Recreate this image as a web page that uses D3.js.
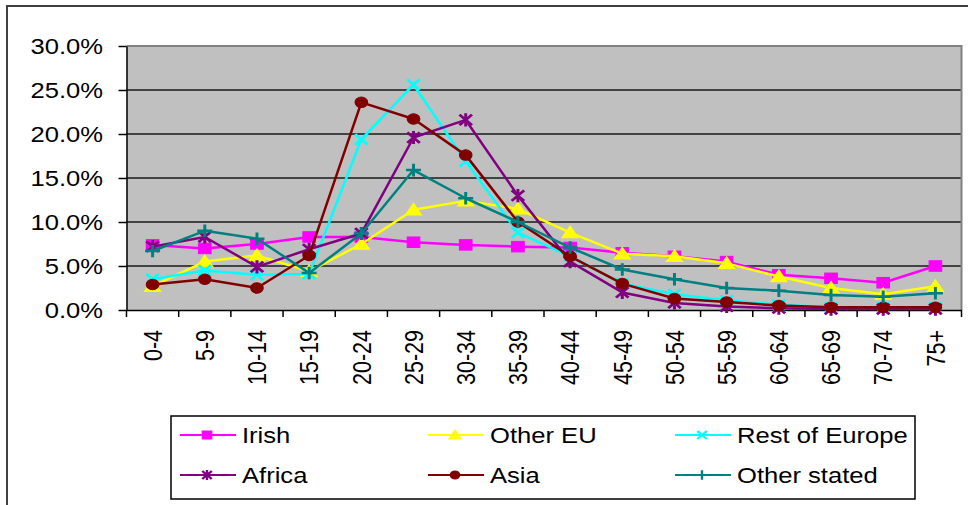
<!DOCTYPE html>
<html>
<head>
<meta charset="utf-8">
<script src="https://cdn.jsdelivr.net/npm/d3@7"></script>
<style>
  html, body { margin: 0; padding: 0; background: #fff; }
  svg { display: block; font-family: "Liberation Sans", Arial, sans-serif; }
</style>
</head>
<body>
<svg id="chart" width="968" height="505"></svg>
<script>
// Age groups along the x axis
const ageGroups = ["0-4","5-9","10-14","15-19","20-24","25-29","30-34","35-39",
                   "40-44","45-49","50-54","55-59","60-64","65-69","70-74","75+"];

// Share of each nationality group by age (%)
const irish        = [7.4, 7.0, 7.5, 8.3, 8.3, 7.7, 7.4, 7.2, 7.1, 6.5, 6.1, 5.5, 4.0, 3.6, 3.1, 5.0];
const otherEU      = [2.7, 5.5, 6.2, 4.4, 7.5, 11.4, 12.4, 11.5, 8.8, 6.4, 6.1, 5.3, 3.8, 2.5, 1.8, 2.7];
const restOfEurope = [3.5, 4.5, 4.0, 4.1, 19.4, 25.6, 16.9, 8.8, 6.1, 3.0, 1.8, 1.1, 0.6, 0.3, 0.3, 0.3];
const africa       = [7.2, 8.3, 4.9, 6.9, 8.7, 19.6, 21.6, 13.0, 5.5, 2.0, 0.8, 0.4, 0.2, 0.1, 0.1, 0.1];
const asia         = [2.9, 3.5, 2.5, 6.2, 23.6, 21.7, 17.6, 10.0, 6.1, 3.0, 1.3, 0.9, 0.5, 0.3, 0.3, 0.3];
const otherStated  = [6.7, 9.0, 8.1, 4.2, 8.7, 15.9, 12.7, 10.0, 7.1, 4.6, 3.5, 2.5, 2.2, 1.7, 1.5, 1.9];

const seriesNames = ["Irish", "Other EU", "Rest of Europe", "Africa", "Asia", "Other stated"];
const seriesData  = [irish, otherEU, restOfEurope, africa, asia, otherStated];
const seriesColors = ["#FF00FF", "#FFFF00", "#00FFFF", "#800080", "#800000", "#008080"];
const seriesMarkers = ["square", "triangle", "cross", "asterisk", "circle", "plus"];

const yTicks = [0, 5, 10, 15, 20, 25, 30];

// Text and markers are drawn slightly wider than tall
const SX = 1.19;
const FONT = 21.5;

const svg = d3.select("#chart");

// Outer chart frame
svg.append("rect")
  .attr("x", 7).attr("y", 6)
  .attr("width", 975).attr("height", 510)
  .attr("fill", "#fff")
  .attr("stroke", "#404040").attr("stroke-width", 2);

const plot = { left: 126.5, right: 961.5, top: 46, bottom: 310 };

const x = d3.scaleBand().domain(ageGroups).range([plot.left, plot.right]);
const y = d3.scaleLinear().domain([0, 30]).range([plot.bottom, plot.top]);

// Plot background
svg.append("rect")
  .attr("x", plot.left).attr("y", plot.top)
  .attr("width", plot.right - plot.left).attr("height", plot.bottom - plot.top)
  .attr("fill", "#C0C0C0");

// Horizontal gridlines
svg.append("g").selectAll("line")
  .data(yTicks.filter(t => t > 0 && t < 30))
  .join("line")
  .attr("x1", plot.left).attr("x2", plot.right)
  .attr("y1", d => y(d)).attr("y2", d => y(d))
  .attr("stroke", "#1a1a1a").attr("stroke-width", 1.5);

// Top and right plot borders
svg.append("path")
  .attr("d", `M${plot.left},${plot.top}H${plot.right}V${plot.bottom}`)
  .attr("fill", "none").attr("stroke", "#808080").attr("stroke-width", 2);

// Y axis
const yAxis = svg.append("g")
  .attr("transform", `translate(${plot.left},0)`)
  .call(d3.axisLeft(y).tickValues(yTicks).tickSize(8).tickSizeOuter(0)
        .tickFormat(d => d3.format(".1f")(d) + "%"));
yAxis.select(".domain").attr("stroke", "#000").attr("stroke-width", 1.5);
yAxis.selectAll(".tick line").attr("stroke", "#000").attr("stroke-width", 1.5);
yAxis.selectAll(".tick text")
  .attr("x", 0).attr("dy", "0.36em")
  .attr("transform", `translate(-23.5,0) scale(${SX},1)`)
  .attr("font-size", FONT).attr("fill", "#000")
  .attr("font-family", "Liberation Sans, Arial, sans-serif");

// X axis: baseline, tick marks at band boundaries, rotated labels at band centres
const xAxis = svg.append("g")
  .attr("transform", `translate(0,${plot.bottom})`)
  .call(d3.axisBottom(x).tickSize(0).tickSizeOuter(0));
xAxis.select(".domain").attr("stroke", "#000").attr("stroke-width", 1.5);
xAxis.selectAll(".tick text")
  .attr("y", 0).attr("dy", "0.36em")
  .attr("text-anchor", "end")
  .attr("transform", `translate(0,20) scale(${SX},1) rotate(-90)`)
  .attr("font-size", FONT).attr("fill", "#000")
  .attr("font-family", "Liberation Sans, Arial, sans-serif");

const boundaries = ageGroups.map(a => x(a)).concat([x.range()[1]]);
svg.append("g").selectAll("line")
  .data(boundaries)
  .join("line")
  .attr("x1", d => d).attr("x2", d => d)
  .attr("y1", plot.bottom).attr("y2", plot.bottom + 7)
  .attr("stroke", "#000").attr("stroke-width", 1.5);

// Marker drawing
function drawMarker(g, type, color, s, sw) {
  const h = s / 2;
  if (type === "square") {
    g.append("rect").attr("x", -h).attr("y", -h).attr("width", s).attr("height", s)
      .attr("fill", color).attr("stroke", color).attr("stroke-width", 1);
  } else if (type === "triangle") {
    const t = s * 0.62;
    g.append("path").attr("d", `M0,${-t}L${t * 1.05},${t * 0.8}L${-t * 1.05},${t * 0.8}Z`)
      .attr("fill", color).attr("stroke", color).attr("stroke-width", 1);
  } else if (type === "circle") {
    g.append("circle").attr("r", h).attr("fill", color).attr("stroke", color).attr("stroke-width", 1);
  } else if (type === "cross") {
    g.append("path").attr("d", `M${-h},${-h}L${h},${h}M${-h},${h}L${h},${-h}`)
      .attr("stroke", color).attr("stroke-width", sw).attr("fill", "none");
  } else if (type === "asterisk") {
    g.append("path").attr("d", `M${-h},${-h}L${h},${h}M${-h},${h}L${h},${-h}M0,${-h * 1.25}V${h * 1.25}`)
      .attr("stroke", color).attr("stroke-width", sw).attr("fill", "none");
  } else if (type === "plus") {
    const p = h * 1.2;
    g.append("path").attr("d", `M${-p},0H${p}M0,${-p}V${p}`)
      .attr("stroke", color).attr("stroke-width", sw).attr("fill", "none");
  }
}

const line = d3.line()
  .x((d, i) => x(ageGroups[i]) + x.bandwidth() / 2)
  .y(d => y(d));

// Series lines and markers
seriesData.forEach((vals, si) => {
  const g = svg.append("g").attr("class", "series");
  g.append("path")
    .attr("d", line(vals))
    .attr("fill", "none")
    .attr("stroke", seriesColors[si])
    .attr("stroke-width", 2.5)
    .attr("stroke-linejoin", "round");
  vals.forEach((v, i) => {
    const m = g.append("g")
      .attr("transform", `translate(${x(ageGroups[i]) + x.bandwidth() / 2},${y(v)}) scale(${SX},1)`);
    drawMarker(m, seriesMarkers[si], seriesColors[si], 10.5, 2.5);
  });
});

// Legend
const legend = svg.append("g");
legend.append("rect")
  .attr("x", 171).attr("y", 416)
  .attr("width", 744).attr("height", 83)
  .attr("fill", "#fff").attr("stroke", "#000").attr("stroke-width", 1.5);

const colX = [180, 428, 675];
const rowY = [435, 475];
seriesNames.forEach((name, si) => {
  const cx = colX[si % 3];
  const cy = rowY[Math.floor(si / 3)];
  const item = legend.append("g");
  item.append("line")
    .attr("x1", cx).attr("x2", cx + 56)
    .attr("y1", cy).attr("y2", cy)
    .attr("stroke", seriesColors[si]).attr("stroke-width", 2);
  const m = item.append("g").attr("transform", `translate(${cx + 27},${cy}) scale(${SX},1)`);
  drawMarker(m, seriesMarkers[si], seriesColors[si], 8, 2);
  item.append("text")
    .attr("transform", `translate(${cx + 62},${cy}) scale(${SX},1)`)
    .attr("dy", "0.36em")
    .attr("font-size", FONT).attr("fill", "#000")
    .text(name);
});
</script>
</body>
</html>
